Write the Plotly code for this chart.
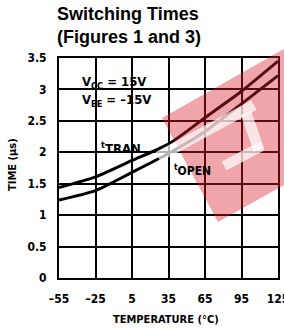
import plotly.graph_objects as go

# ---- data ----
temperature = [-55, -25, 5, 35, 65, 95, 125]
t_tran = [1.44, 1.61, 1.87, 2.13, 2.55, 2.97, 3.45]
t_open = [1.24, 1.39, 1.68, 1.98, 2.33, 2.77, 3.22]
x_ticks = [-55, -25, 5, 35, 65, 95, 125]
x_tick_text = ["\u201355", "\u201325", "5", "35", "65", "95", "125"]
y_ticks = [0, 0.5, 1, 1.5, 2, 2.5, 3, 3.5]
y_tick_text = ["0", "0.5", "1", "1.5", "2", "2.5", "3", "3.5"]

W, H = 284, 328
L, R, T, B = 59, 278, 58, 278  # plot area in px


def px(x, y):
    return ((x - L) / (R - L), (B - y) / (B - T))


def poly(points):
    pts = [px(x, y) for x, y in points]
    return "M " + " L ".join(f"{a:.4f},{b:.4f}" for a, b in pts) + " Z"


def band(p1, p2, th):
    (x1, y1), (x2, y2) = p1, p2
    dx, dy = x2 - x1, y2 - y1
    n = (dx * dx + dy * dy) ** 0.5
    ox, oy = -dy / n * th / 2, dx / n * th / 2
    return poly([(x1 + ox, y1 + oy), (x2 + ox, y2 + oy), (x2 - ox, y2 - oy), (x1 - ox, y1 - oy)])


COND = "Liberation Sans Narrow, DejaVu Sans Condensed, Arial Narrow, Liberation Sans, sans-serif"

fig = go.Figure()
for name, vals in [("tTRAN", t_tran), ("tOPEN", t_open)]:
    fig.add_trace(go.Scatter(x=temperature, y=vals, mode="lines", name=name,
                             line=dict(color="black", width=3, shape="spline", smoothing=0.6),
                             showlegend=False, hoverinfo="skip"))

axis_common = dict(showgrid=True, gridcolor="black", gridwidth=1.5, showline=True,
                   linecolor="black", linewidth=2, mirror=True, zeroline=False,
                   automargin=False, ticklabeloverflow="allow",
                   ticks="", tickfont=dict(family=COND, size=12, color="black", weight="bold"))
fig.update_xaxes(range=[-55, 125], tickvals=x_ticks, ticktext=x_tick_text,
                 ticklabelstandoff=9, **axis_common)
fig.update_yaxes(range=[0, 3.5], tickvals=y_ticks, ticktext=y_tick_text,
                 ticklabelstandoff=8, **axis_common)


def ann(text, x, y, xanchor="left", size=13, **kw):
    d = dict(text=text, x=px(x, 0)[0], y=px(0, y)[1], xref="paper", yref="paper",
             xanchor=xanchor, yanchor="middle", showarrow=False,
             font=dict(family=COND, size=size, color="black", weight="bold"))
    d.update(kw)
    return d


annotations = [
    ann("<b>Switching Times<br>(Figures 1 and 3)</b>", 55, 26, align="left",
        font=dict(family="Liberation Sans, Arial, sans-serif", size=18, color="black")),
    ann("V<sub>CC</sub> = 15V", 80, 82),
    ann("V<sub>EE</sub> = \u201315V", 80, 100),
    ann("<sup>t</sup>TRAN", 99, 148),
    ann("<sup>t</sup>OPEN", 172, 170, size=12),
    ann("TIME (\u03bcs)", 12, 165, xanchor="center", size=11, textangle=-90),
    ann("TEMPERATURE (\u00b0C)", 166, 319, xanchor="center", size=11),
]

shapes = [
    dict(type="path", xref="paper", yref="paper", layer="above", line=dict(width=0),
         fillcolor="rgb(215,30,40)", opacity=0.4,
         path=poly([(162, 118), (300, 40), (300, 176), (218, 222)])),
]
for p1, p2, th in [((158, 157), (254, 105), 11), ((246, 113), (259, 150), 11), ((224, 166), (262, 146), 10)]:
    shapes.append(dict(type="path", xref="paper", yref="paper", layer="above", line=dict(width=0),
                       fillcolor="white", opacity=0.7, path=band(p1, p2, th)))

fig.update_layout(width=W, height=H, margin=dict(l=L, r=W - R, t=T, b=H - B, autoexpand=False),
                  plot_bgcolor="white", paper_bgcolor="white",
                  annotations=annotations, shapes=shapes)

fig.write_html("out.html", config={"displayModeBar": False},
               post_script="document.body.style.margin='0';document.body.style.overflow='hidden';")
